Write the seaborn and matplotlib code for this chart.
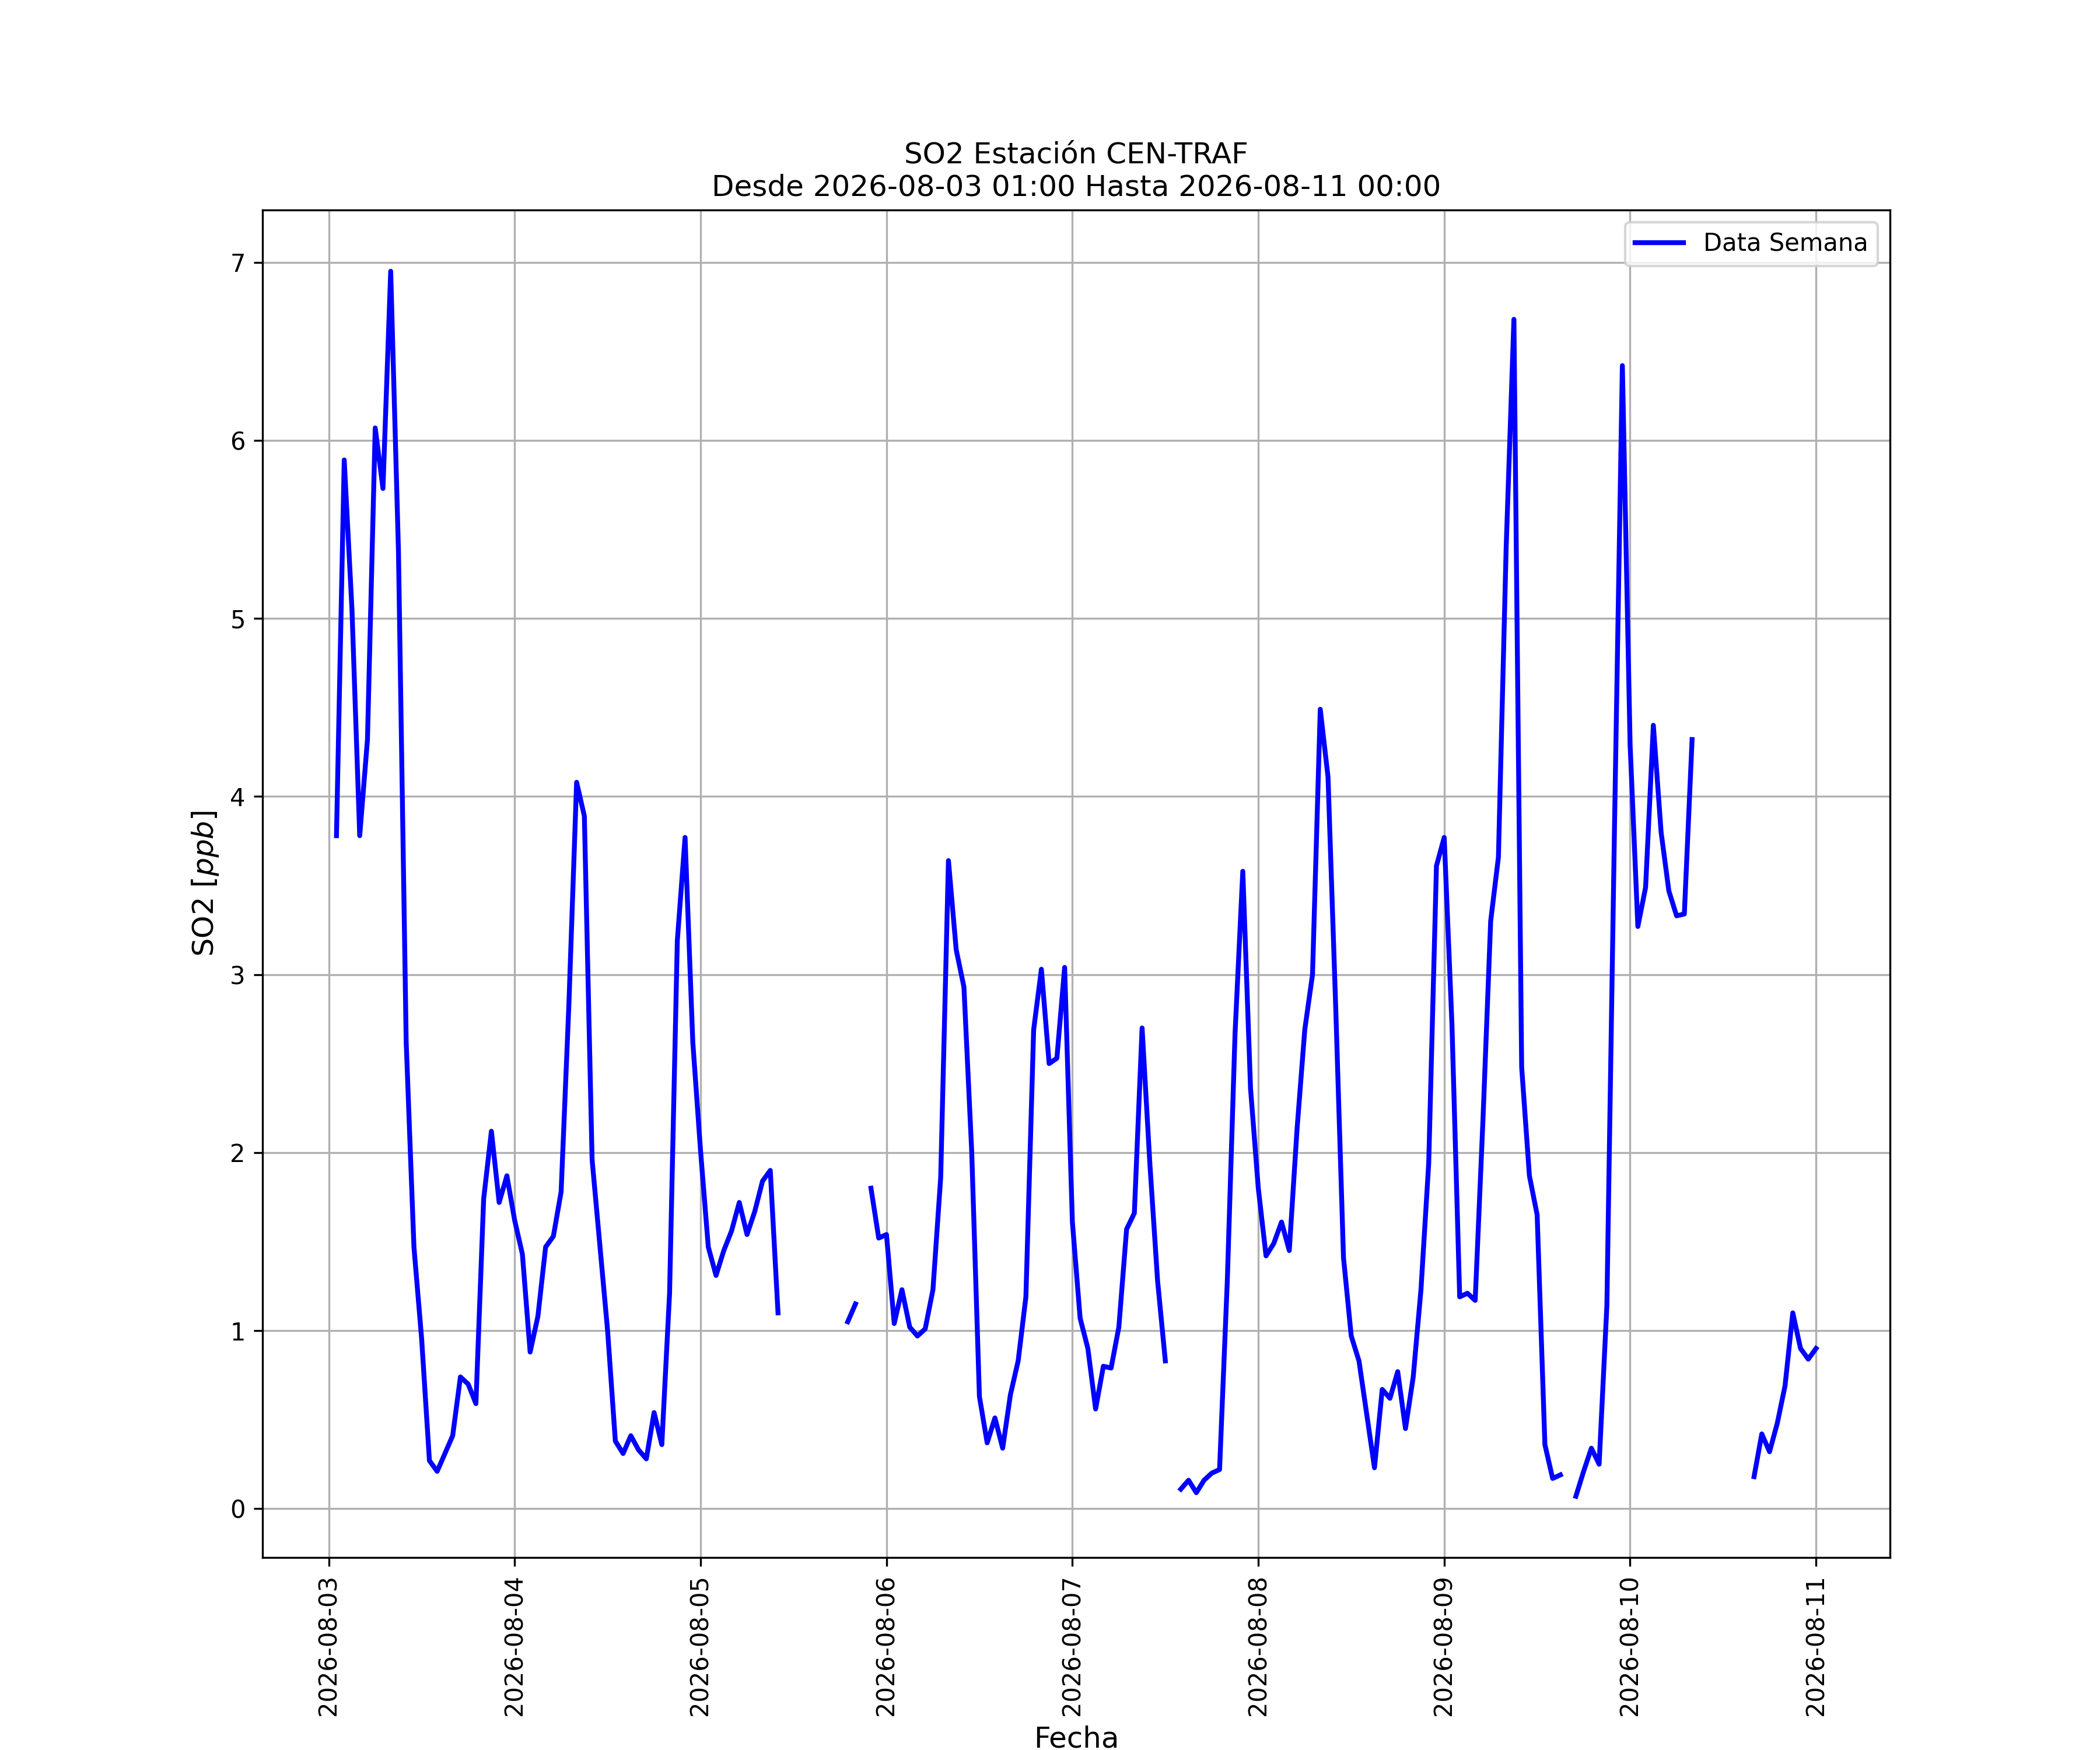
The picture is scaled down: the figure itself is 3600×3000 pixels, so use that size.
import numpy as np
import pandas as pd
import matplotlib
matplotlib.use("Agg")
import matplotlib.pyplot as plt
import matplotlib.dates as mdates
import seaborn as sns

nan = np.nan

# Hourly SO2 values [ppb], 2026-08-03 01:00 .. 2026-08-11 00:00 (NaN = missing)
day1 = [3.78, 5.89, 5.05, 3.78, 4.32, 6.07, 5.73, 6.95, 5.38, 2.62, 1.47, 0.95,
        0.27, 0.21, 0.31, 0.41, 0.74, 0.70, 0.59, 1.74, 2.12, 1.72, 1.87, 1.62]
day2 = [1.43, 0.88, 1.08, 1.47, 1.53, 1.78, 2.83, 4.08, 3.89, 1.96, 1.48, 1.00,
        0.38, 0.31, 0.41, 0.33, 0.28, 0.54, 0.36, 1.21, 3.19, 3.77, 2.62, 2.01]
day3 = [1.47, 1.31, 1.45, 1.56, 1.72, 1.54, 1.67, 1.84, 1.90, 1.10, nan, nan,
        nan, nan, nan, nan, nan, nan, 1.05, 1.15, nan, 1.80, 1.52, 1.54]
day4 = [1.04, 1.23, 1.02, 0.97, 1.01, 1.23, 1.86, 3.64, 3.14, 2.93, 2.01, 0.63,
        0.37, 0.51, 0.34, 0.64, 0.83, 1.19, 2.69, 3.03, 2.50, 2.53, 3.04, 1.61]
day5 = [1.07, 0.90, 0.56, 0.80, 0.79, 1.02, 1.57, 1.66, 2.70, 1.94, 1.28, 0.83,
        nan, 0.11, 0.16, 0.09, 0.16, 0.20, 0.22, 1.28, 2.67, 3.58, 2.36, 1.80]
day6 = [1.42, 1.49, 1.61, 1.45, 2.13, 2.69, 3.00, 4.49, 4.11, 2.81, 1.41, 0.97,
        0.83, 0.53, 0.23, 0.67, 0.62, 0.77, 0.45, 0.74, 1.23, 1.94, 3.61, 3.77]
day7 = [2.72, 1.19, 1.21, 1.17, 2.18, 3.30, 3.66, 5.40, 6.68, 2.48, 1.87, 1.65,
        0.36, 0.17, 0.19, nan, 0.07, 0.21, 0.34, 0.25, 1.14, 3.87, 6.42, 4.29]
day8 = [3.27, 3.49, 4.40, 3.80, 3.47, 3.33, 3.34, 4.32, nan, nan, nan, nan,
        nan, nan, nan, 0.18, 0.42, 0.32, 0.48, 0.69, 1.10, 0.90, 0.84, 0.90]

start = "2026-08-03 01:00"
end = "2026-08-11 00:00"
station = "CEN-TRAF"
series_label = "Data Semana"

values = np.array(day1 + day2 + day3 + day4 + day5 + day6 + day7 + day8)
times = pd.date_range(start, end, freq="h")

df = pd.DataFrame({"Fecha": times, "SO2": values})
# segment id so that missing hours break the line
df["seg"] = df["SO2"].isna().cumsum()
df = df.dropna(subset=["SO2"])

fig, ax = plt.subplots(figsize=(12, 10), dpi=300)
sns.lineplot(data=df, x="Fecha", y="SO2", units="seg", estimator=None,
             color="blue", linewidth=2, sort=False, ax=ax, label=series_label)

ax.xaxis.set_major_locator(mdates.DayLocator())
ax.xaxis.set_major_formatter(mdates.DateFormatter("%Y-%m-%d"))
plt.setp(ax.get_xticklabels(), rotation=90)

ax.grid(True)
ax.set_title(f"SO2 Estación {station}\nDesde {start} Hasta {end}", fontsize=12)
ax.set_xlabel("Fecha", fontsize=12)
ax.set_ylabel("SO2 [$ppb$]", fontsize=12)

handles, labels = ax.get_legend_handles_labels()
ax.legend(handles[:1], labels[:1], loc="upper right")

fig.savefig("out.png", dpi=300)
